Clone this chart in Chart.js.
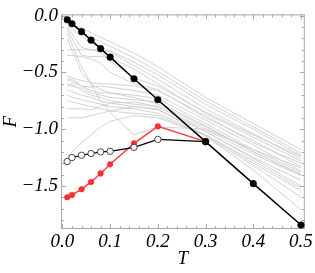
<!DOCTYPE html>
<html lang="en">
<head>
    <meta charset="utf-8" />
    <title>F vs T</title>
    <script src="https://cdn.jsdelivr.net/npm/chart.js"></script>
    <style>
        html, body { margin: 0; padding: 0; background: #fff; }
    </style>
</head>
<body>
    <canvas id="grafico" width="315" height="273"></canvas>

    <script>
        // valores de T (eixo x)
        const temps = [0.01, 0.02, 0.04, 0.06, 0.08, 0.1, 0.15, 0.2, 0.3, 0.4, 0.5];
        const tempsCurtos = [0.01, 0.02, 0.04, 0.06, 0.08, 0.1, 0.15, 0.2, 0.3];

        // serie preta (pontos cheios)
        const seriePreta = [-0.035, -0.07, -0.14, -0.215, -0.29, -0.365, -0.555, -0.74, -1.11, -1.48, -1.845];
        // serie vermelha
        const serieVermelha = [-1.60, -1.58, -1.53, -1.465, -1.39, -1.31, -1.125, -0.975, -1.11];
        // serie branca (circulos abertos)
        const serieBranca = [-1.285, -1.25, -1.23, -1.215, -1.20, -1.195, -1.16, -1.09, -1.11];

        // curvas cinzas de fundo
        const curvasCinzas = [
            [-0.05, -0.07, -0.11, -0.15, -0.19, -0.23, -0.33, -0.45, -0.72, -0.95, -1.18],
            [-0.06, -0.09, -0.14, -0.19, -0.23, -0.27, -0.37, -0.49, -0.75, -0.98, -1.21],
            [-0.08, -0.12, -0.18, -0.24, -0.28, -0.31, -0.41, -0.52, -0.78, -1.00, -1.23],
            [-0.10, -0.16, -0.28, -0.30, -0.30, -0.32, -0.44, -0.56, -0.82, -1.04, -1.26],
            [-0.12, -0.20, -0.35, -0.36, -0.36, -0.37, -0.47, -0.60, -0.86, -1.07, -1.28],
            [-0.15, -0.25, -0.45, -0.60, -0.75, -0.85, -1.05, -0.98, -1.00, -1.18, -1.34],
            [-0.53, -0.55, -0.57, -0.59, -0.60, -0.60, -0.62, -0.66, -0.88, -1.12, -1.30],
            [-0.55, -0.58, -0.62, -0.63, -0.62, -0.63, -0.66, -0.70, -0.92, -1.14, -1.37],
            [-0.57, -0.56, -0.62, -0.66, -0.68, -0.68, -0.70, -0.73, -0.95, -1.18, -1.38],
            [-0.60, -0.62, -0.64, -0.68, -0.70, -0.72, -0.74, -0.76, -0.97, -1.20, -1.40],
            [-0.62, -0.60, -0.66, -0.70, -0.72, -0.75, -0.78, -0.80, -1.00, -1.22, -1.41],
            [-0.65, -0.67, -0.70, -0.72, -0.75, -0.77, -0.80, -0.83, -1.02, -1.26, -1.50],
            [-0.70, -0.72, -0.74, -0.76, -0.78, -0.80, -0.82, -0.86, -1.05, -1.30, -1.54],
            [-0.75, -0.76, -0.78, -0.80, -0.82, -0.84, -0.86, -0.88, -1.06, -1.32, -1.60],
            [-0.82, -0.82, -0.82, -0.83, -0.80, -0.77, -0.76, -0.80, -1.02, -1.25, -1.45],
            [-0.90, -0.90, -0.90, -0.88, -0.86, -0.84, -0.80, -0.82, -1.06, -1.36, -1.71],
            [-1.24, -1.20, -1.12, -1.05, -0.98, -0.93, -0.88, -0.90, -1.05, -1.28, -1.52],
            [-0.30, -0.30, -0.30, -0.30, -0.32, -0.40, -0.55, -0.62, -0.85, -1.05, -1.24],
            [-0.35, -0.35, -0.36, -0.38, -0.42, -0.50, -0.60, -0.65, -0.90, -1.10, -1.33],
            [-0.20, -0.30, -0.50, -0.60, -0.65, -0.68, -0.72, -0.78, -0.98, -1.20, -1.40]
        ];

        // ticks principais
        const ticksX = [0, 0.1, 0.2, 0.3, 0.4, 0.5];
        const ticksY = [0, -0.5, -1.0, -1.5];
        const rotulosX = ['0.0', '0.1', '0.2', '0.3', '0.4', '0.5'];
        const rotulosY = ['0.0', '\u22120.5', '\u22121.0', '\u22121.5'];

        const pares = (xs, ys) => ys.map((y, i) => ({ x: xs[i], y: y }));
        const fonteSerif = { family: '"Liberation Serif", "DejaVu Serif", serif', style: 'italic', size: 19 };

        const datasets = [
            {
                data: pares(temps, seriePreta),
                borderColor: '#000', backgroundColor: '#000',
                borderWidth: 1.5, pointRadius: 3.3, pointBorderWidth: 0.5
            },
            {
                data: pares(tempsCurtos, serieBranca),
                borderColor: '#000', backgroundColor: '#fff',
                pointBorderColor: '#333', pointBackgroundColor: '#fff',
                borderWidth: 1.2, pointRadius: 3.2, pointBorderWidth: 0.9
            },
            {
                data: pares(tempsCurtos, serieVermelha),
                borderColor: '#ff3b3b', backgroundColor: '#ff3030',
                pointBorderColor: '#e82020',
                borderWidth: 1.4, pointRadius: 2.8, pointBorderWidth: 0.5
            }
        ];
        curvasCinzas.forEach(c => datasets.push({
            data: pares(temps, c),
            borderColor: 'rgba(205,205,205,0.9)',
            borderWidth: 1, pointRadius: 0
        }));

        // moldura e ticks para dentro, estilo Mathematica
        const moldura = {
            id: 'moldura',
            beforeDatasetsDraw(chart) {
                const { ctx, chartArea: a, scales: { x, y } } = chart;
                ctx.save();
                ctx.strokeStyle = '#a8a8a8';
                ctx.lineWidth = 1;
                ctx.strokeRect(a.left + 0.5, a.top + 0.5, a.right - a.left - 1, a.bottom - a.top - 1);
                ctx.beginPath();
                for (let i = 0; i <= 25; i++) {
                    const v = i * 0.02;
                    const px = Math.round(x.getPixelForValue(v)) + 0.5;
                    const len = (i % 5 === 0) ? 5 : 3;
                    ctx.moveTo(px, a.bottom); ctx.lineTo(px, a.bottom - len);
                    ctx.moveTo(px, a.top); ctx.lineTo(px, a.top + len);
                }
                for (let i = 0; i <= 18; i++) {
                    const v = -i * 0.1;
                    const py = Math.round(y.getPixelForValue(v)) + 0.5;
                    const len = (i % 5 === 0) ? 5 : 3;
                    ctx.moveTo(a.left, py); ctx.lineTo(a.left + len, py);
                    ctx.moveTo(a.right, py); ctx.lineTo(a.right - len, py);
                }
                ctx.stroke();
                ctx.restore();
            }
        };

        new Chart(document.getElementById('grafico'), {
            type: 'line',
            data: { datasets: datasets },
            options: {
                responsive: false,
                animation: false,
                layout: { padding: { top: 8, right: 8, left: 0, bottom: 0 } },
                plugins: { legend: { display: false }, tooltip: { enabled: false } },
                elements: { line: { tension: 0 } },
                datasets: { line: { clip: false } },
                scales: {
                    x: {
                        type: 'linear', min: -0.003, max: 0.508,
                        afterFit: s => { s.height = 44; },
                        afterBuildTicks: s => { s.ticks = ticksX.map(v => ({ value: v })); },
                        grid: { display: false, drawTicks: false },
                        border: { display: false },
                        ticks: {
                            color: '#000', font: fonteSerif, padding: 2, maxRotation: 0,
                            callback: (v, i) => rotulosX[i]
                        },
                        title: { display: true, text: 'T', color: '#000', font: fonteSerif, padding: { top: 0, bottom: 3 } }
                    },
                    y: {
                        type: 'linear', min: -1.88, max: 0.012,
                        afterFit: s => { s.width = 61; },
                        afterBuildTicks: s => { s.ticks = ticksY.map(v => ({ value: v })); },
                        grid: { display: false, drawTicks: false },
                        border: { display: false },
                        ticks: {
                            color: '#000', font: fonteSerif, padding: 3,
                            callback: (v, i) => rotulosY[i]
                        },
                        title: { display: true, text: 'F', color: '#000', font: fonteSerif, padding: 0 }
                    }
                }
            },
            plugins: [moldura]
        });
    </script>
</body>
</html>
